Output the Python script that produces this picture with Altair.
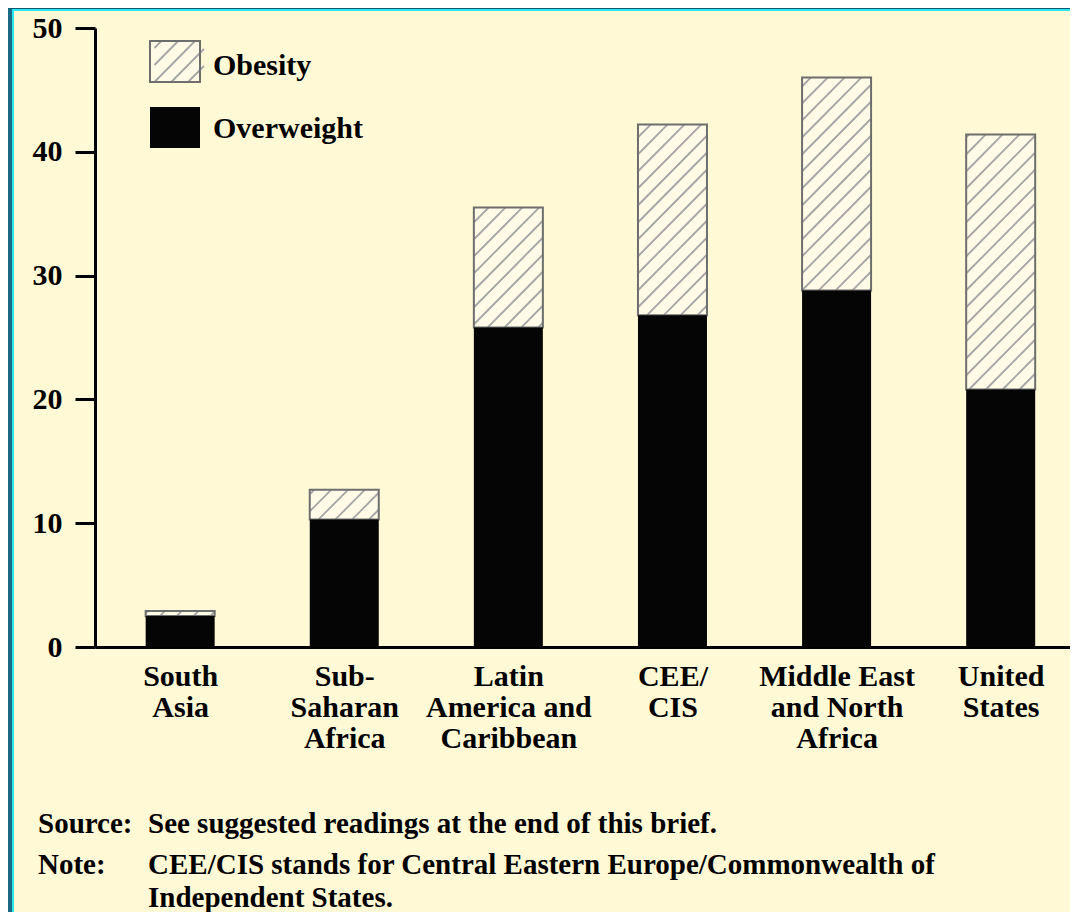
import json
import math
import altair as alt
import pandas as pd

# ---------------- data ----------------
categories = ["South\nAsia", "Sub-\nSaharan\nAfrica", "Latin\nAmerica and\nCaribbean",
              "CEE/\nCIS", "Middle East\nand North\nAfrica", "United\nStates"]
overweight = [2.5, 10.3, 25.8, 26.8, 28.8, 20.8]
obesity = [0.4, 2.4, 9.7, 15.4, 17.2, 20.6]
y_ticks = [0, 10, 20, 30, 40, 50]
series_labels = ["Obesity", "Overweight"]
source_line = ["Source:", "See suggested readings at the end of this brief."]
note_lines = ["Note:", "CEE/CIS stands for Central Eastern Europe/Commonwealth of",
              "Independent States."]

# ---------------- style / layout ----------------
BG = "#FFF9D6"
FONT = "Liberation Serif"
FS = 30
FS_NOTE = 29
W, H = 975, 619
X_DOM = [-0.4885, 5.392]
Y_DOM = [0, 50]
BAR_W = 69
HATCH_STEP = 17
HATCH_COLOR = "#A5A5A5"
OUTLINE = "#6E6E6E"
PX_X = W / (X_DOM[1] - X_DOM[0])
PX_Y = H / (Y_DOM[1] - Y_DOM[0])

idx = list(range(len(categories)))
totals = [a + b for a, b in zip(overweight, obesity)]
bars = pd.DataFrame({"idx": idx, "ow": overweight, "total": totals})


def hatch(w, yb, yt, step):
    """45-degree '/' hatch segments inside box [0,w] x [yb,yt] (pixels, y up)."""
    segs = []
    k = math.floor((yb - w) / step) * step
    while k < yt:
        x0 = max(0.0, yb - k)
        x1 = min(float(w), yt - k)
        if x1 > x0 + 0.5:
            segs.append((x0, k + x0, x1, k + x1))
        k += step
    return segs


rows = []
for i, ow, tot in zip(idx, overweight, totals):
    left = i - (BAR_W / 2) / PX_X
    for (ax, ay, bx, by) in hatch(BAR_W, ow * PX_Y, tot * PX_Y, HATCH_STEP):
        rows.append({"x": left + ax / PX_X, "y": ay / PX_Y,
                     "x2": left + bx / PX_X, "y2": by / PX_Y})
hatch_df = pd.DataFrame(rows)

# legend boxes in pixels relative to plot origin
LEG_X0, LEG_X1 = 55, 105
OB_Y0, OB_Y1 = 13, 54
OW_Y0, OW_Y1 = 79, 120
leg_rows = []
for (ax, ay, bx, by) in hatch(LEG_X1 - LEG_X0, 0, OB_Y1 - OB_Y0, HATCH_STEP):
    leg_rows.append({"x": X_DOM[0] + (LEG_X0 + ax) / PX_X,
                     "y": Y_DOM[1] - (OB_Y1 - ay) / PX_Y,
                     "x2": X_DOM[0] + (LEG_X0 + bx) / PX_X,
                     "y2": Y_DOM[1] - (OB_Y1 - by) / PX_Y})
leg_hatch_df = pd.DataFrame(leg_rows)

label_expr = json.dumps([c.split("\n") for c in categories]) + "[round(datum.value)]"

x_scale = alt.Scale(domain=X_DOM, nice=False, zero=False)
y_scale = alt.Scale(domain=Y_DOM, nice=False)

x_axis = alt.Axis(values=idx, labelExpr=label_expr, ticks=False, grid=False, title=None,
                  domainColor="black", domainWidth=3,
                  labelFont=FONT, labelFontWeight="bold", labelFontSize=FS,
                  labelColor="black", labelPadding=14, labelLineHeight=31,
                  labelOverlap=False, labelFlush=False, labelBound=False)
y_axis = alt.Axis(values=y_ticks, grid=False, title=None, format="d",
                  domainColor="black", domainWidth=3,
                  tickColor="black", tickWidth=3, tickSize=20,
                  labelFont=FONT, labelFontWeight="bold", labelFontSize=FS,
                  labelColor="black", labelPadding=13)

base = alt.Chart(bars)

obesity_fill = base.mark_bar(width=BAR_W, color="#FFFBE6").encode(
    x=alt.X("idx:Q", scale=x_scale, axis=x_axis),
    y=alt.Y("ow:Q", scale=y_scale, axis=y_axis),
    y2="total:Q",
)
hatch_layer = alt.Chart(hatch_df).mark_rule(color=HATCH_COLOR, strokeWidth=1.8).encode(
    x=alt.X("x:Q", scale=x_scale), y=alt.Y("y:Q", scale=y_scale),
    x2="x2:Q", y2="y2:Q",
)
obesity_outline = base.mark_bar(width=BAR_W, fill=None, stroke=OUTLINE, strokeWidth=2).encode(
    x=alt.X("idx:Q", scale=x_scale), y=alt.Y("ow:Q", scale=y_scale), y2="total:Q",
)
overweight_bar = base.mark_bar(width=BAR_W, color="#050505").encode(
    x=alt.X("idx:Q", scale=x_scale), y=alt.Y("ow:Q", scale=y_scale), y2=alt.Y2(datum=0),
)

one = pd.DataFrame({"k": [0]})

leg_ob_fill = alt.Chart(one).mark_rect(fill="#FFFBE6").encode(
    x=alt.value(LEG_X0), x2=alt.value(LEG_X1), y=alt.value(OB_Y0), y2=alt.value(OB_Y1))
leg_ob_hatch = alt.Chart(leg_hatch_df).mark_rule(color=HATCH_COLOR, strokeWidth=1.8).encode(
    x=alt.X("x:Q", scale=x_scale), y=alt.Y("y:Q", scale=y_scale), x2="x2:Q", y2="y2:Q")
leg_ob_box = alt.Chart(one).mark_rect(fill=None, stroke=OUTLINE, strokeWidth=2).encode(
    x=alt.value(LEG_X0), x2=alt.value(LEG_X1), y=alt.value(OB_Y0), y2=alt.value(OB_Y1))
leg_ow_box = alt.Chart(one).mark_rect(fill="#050505").encode(
    x=alt.value(LEG_X0), x2=alt.value(LEG_X1), y=alt.value(OW_Y0), y2=alt.value(OW_Y1))

# decorative page frame (teal strip + cyan edge, as in the reference scan)
frame_left = alt.Chart(one).mark_rect(fill="#1A6A85").encode(
    x=alt.value(-87), x2=alt.value(-83), y=alt.value(-20), y2=alt.value(900))
frame_left_cyan = alt.Chart(one).mark_rect(fill="#2EE6F0").encode(
    x=alt.value(-83), x2=alt.value(-81), y=alt.value(-20), y2=alt.value(900))
frame_top = alt.Chart(one).mark_rect(fill="#0D5A78").encode(
    x=alt.value(-87), x2=alt.value(1000), y=alt.value(-20), y2=alt.value(-19))
frame_top_cyan = alt.Chart(one).mark_rect(fill="#2EE6F0").encode(
    x=alt.value(-83), x2=alt.value(1000), y=alt.value(-19), y2=alt.value(-17))


def text(t, x, y, size=FS):
    return alt.Chart(one).mark_text(
        text=t, x=x, y=y, align="left", baseline="alphabetic",
        font=FONT, fontWeight="bold", fontSize=size, color="black")


texts = [
    text(series_labels[0], 118, 47),
    text(series_labels[1], 118, 110),
    text(source_line[0], -57, 805, FS_NOTE),
    text(source_line[1], 53, 805, FS_NOTE),
    text(note_lines[0], -57, 846, FS_NOTE),
    text(note_lines[1], 53, 846, FS_NOTE),
    text(note_lines[2], 53, 879, FS_NOTE),
]

chart = alt.layer(
    frame_left, frame_left_cyan, frame_top, frame_top_cyan,
    obesity_fill, hatch_layer, obesity_outline, overweight_bar,
    leg_ob_fill, leg_ob_hatch, leg_ob_box, leg_ow_box, *texts
).properties(
    width=W, height=H, background=BG,
    autosize=alt.AutoSizeParams(type="none"),
    padding={"left": 87, "top": 20, "right": 0, "bottom": 265},
).configure_view(stroke=None)

chart.save("out.html", embed_options={"renderer": "svg", "actions": False})
